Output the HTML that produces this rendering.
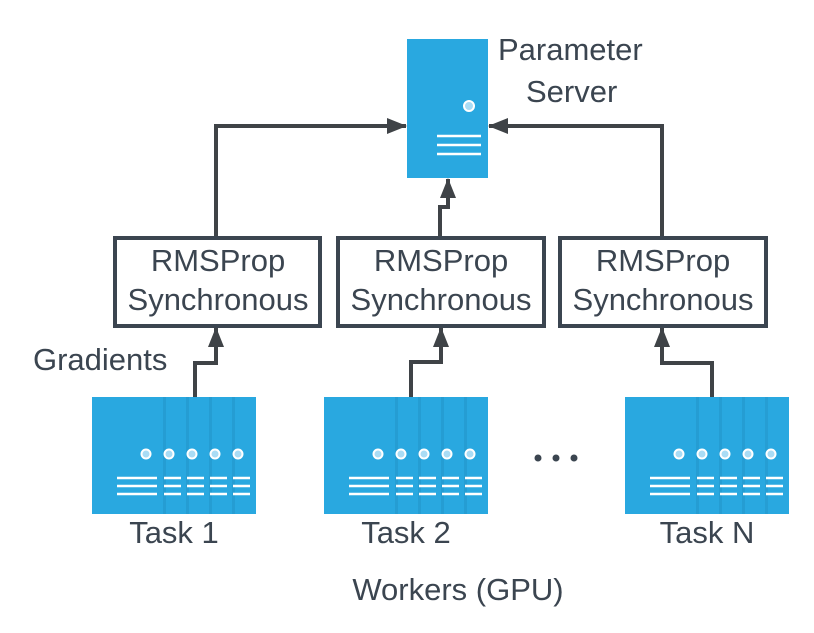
<!DOCTYPE html>
<html><head><meta charset="utf-8"><style>
body{margin:0;background:#fff}
text{font-family:"Liberation Sans",sans-serif;fill:#3b4550}
</style></head><body>
<svg width="814" height="628" viewBox="0 0 814 628" xmlns="http://www.w3.org/2000/svg">
<defs>
<marker id="a" markerWidth="20" markerHeight="18" refX="19" refY="9" orient="auto" markerUnits="userSpaceOnUse">
<path d="M0,1 L20,9 L0,17 z" fill="#3f4347"/></marker>
<g id="st">
<rect x="0" y="0" width="164" height="117" fill="#29a8e0"/>
<g fill="#2497cc" opacity="0.6"><rect x="71" y="0" width="3" height="117"/><rect x="94" y="0" width="3" height="117"/><rect x="117" y="0" width="3" height="117"/><rect x="140" y="0" width="3" height="117"/></g>
<g fill="#a9dcf5" stroke="#fff" stroke-width="2"><circle cx="54" cy="57" r="4.5"/><circle cx="77" cy="57" r="4.5"/><circle cx="100" cy="57" r="4.5"/><circle cx="123" cy="57" r="4.5"/><circle cx="146" cy="57" r="4.5"/></g>
<g stroke="#fff" stroke-width="2.5"><path d="M25 81H65M25 89H65M25 97H65"/>
<path d="M72 81H89M72 89H89M72 97H89M95 81H112M95 89H112M95 97H112M118 81H135M118 89H135M118 97H135M141 81H158M141 89H158M141 97H158"/></g>
</g>
</defs>
<g fill="none" stroke="#3f4347" stroke-width="4">
<path d="M216 237V126H406" marker-end="url(#a)"/>
<path d="M662 237V126H489" marker-end="url(#a)"/>
<path d="M440 236V207H448V179" marker-end="url(#a)"/>
<path d="M195 397V363H216V328" marker-end="url(#a)"/>
<path d="M411 397V362H441V328" marker-end="url(#a)"/>
<path d="M712 397V363H662V328" marker-end="url(#a)"/>
</g>
<rect x="407" y="39" width="81" height="139" fill="#29a8e0"/>
<circle cx="469" cy="106" r="5" fill="#a9dcf5" stroke="#fff" stroke-width="2"/>
<path d="M437 136H481M437 145H481M437 154H481" stroke="#fff" stroke-width="2.5"/>
<g fill="#fff" stroke="#3b4550" stroke-width="4">
<rect x="115" y="238" width="205" height="88"/>
<rect x="338" y="238" width="206" height="88"/>
<rect x="560" y="238" width="206" height="88"/>
</g>
<g font-size="31" text-anchor="middle">
<text x="218" y="271">RMSProp</text><text x="218" y="310">Synchronous</text>
<text x="441" y="271">RMSProp</text><text x="441" y="310">Synchronous</text>
<text x="663" y="271">RMSProp</text><text x="663" y="310">Synchronous</text>
<text x="174" y="543">Task 1</text>
<text x="406" y="543">Task 2</text>
<text x="707" y="543">Task N</text>
<text x="458" y="600">Workers (GPU)</text>
</g>
<g font-size="31">
<text x="33" y="370">Gradients</text>
<text x="498" y="60">Parameter</text>
<text x="526" y="102">Server</text>
</g>
<g fill="#3b4550"><circle cx="538" cy="458" r="3.5"/><circle cx="556" cy="458" r="3.5"/><circle cx="574" cy="458" r="3.5"/></g>
<use href="#st" x="92" y="397"/>
<use href="#st" x="324" y="397"/>
<use href="#st" x="625" y="397"/>
</svg>
</body></html>
